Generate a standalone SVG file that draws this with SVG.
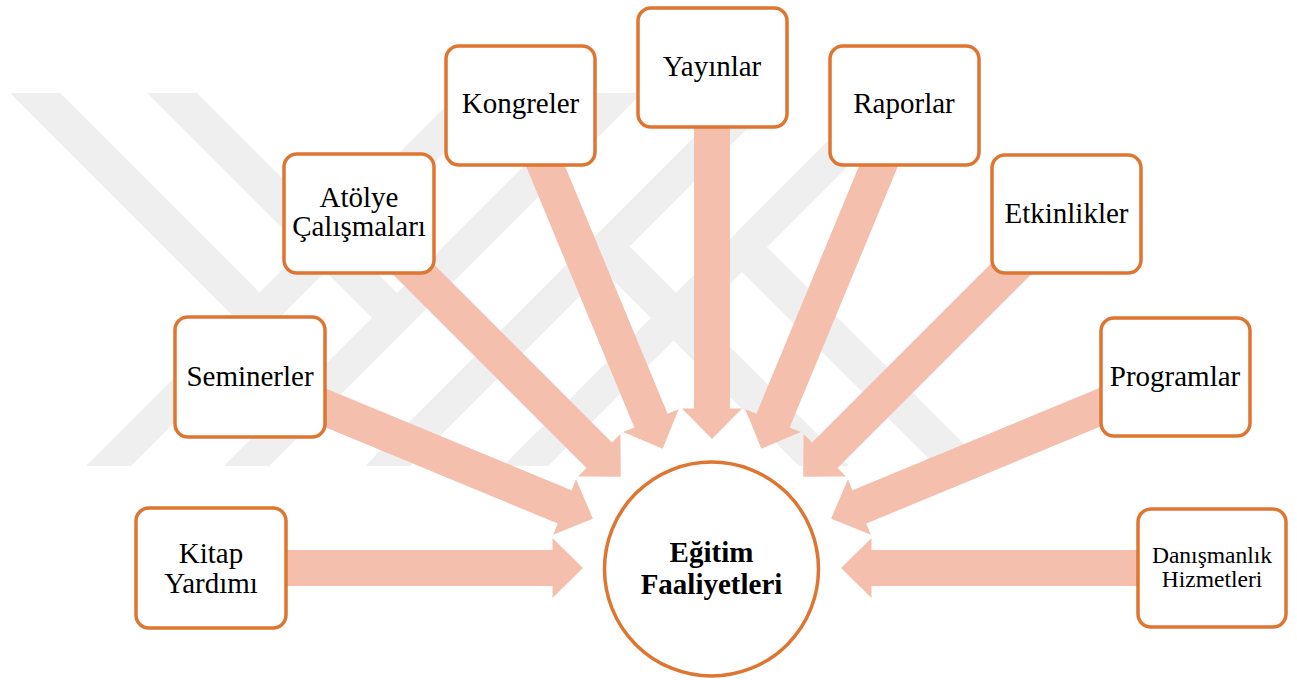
<svg xmlns="http://www.w3.org/2000/svg" xmlns:xlink="http://www.w3.org/1999/xlink" width="1297" height="680" viewBox="0 0 1297 680">
<style>
.box{fill:#fff;stroke:#DE7530;stroke-width:3.5}
text{font-family:'Liberation Serif','Times New Roman',Tinos,Times,serif}
.lbl{font-size:29px;fill:#000;text-anchor:middle}
.sm{font-size:23.5px}
.bold{font-weight:bold}
.wm{fill:#efefef}
.arr{fill:#F4BFAD}
</style>
<defs>
<path id="arrow" d="M -500,-18 H -159.5 V -30 L -129,0 L -159.5,30 V 18 H -500 Z"/>
</defs>
<rect width="1297" height="680" fill="#fff"/>
<g id="watermark">
<polygon class="wm" points="459,93 504,93 131,466 86,466"/>
<polygon class="wm" points="597,93 642,93 269,466 224,466"/>
<polygon class="wm" points="738,93 783,93 410,466 365,466"/>
<polygon class="wm" points="876,93 921,93 548,466 503,466"/>
<polygon class="wm" points="10,93 60,93 263.5,296.5 238.5,321.5"/>
<polygon class="wm" points="147,93 197,93 401,297 376,322"/>
<polygon class="wm" points="625.5,242.5 849,466 799,466 600.5,267.5"/>
<polygon class="wm" points="763,243 986,466 936,466 738,268"/>
</g>
<g id="connectors">
<use xlink:href="#arrow" class="arr" transform="translate(712,568) rotate(0)"/>
<use xlink:href="#arrow" class="arr" transform="translate(712,568) rotate(22.5)"/>
<use xlink:href="#arrow" class="arr" transform="translate(712,568) rotate(45)"/>
<use xlink:href="#arrow" class="arr" transform="translate(712,568) rotate(67.5)"/>
<use xlink:href="#arrow" class="arr" transform="translate(712,568) rotate(90)"/>
<use xlink:href="#arrow" class="arr" transform="translate(712,568) rotate(112.5)"/>
<use xlink:href="#arrow" class="arr" transform="translate(712,568) rotate(135)"/>
<use xlink:href="#arrow" class="arr" transform="translate(712,568) rotate(157.5)"/>
<use xlink:href="#arrow" class="arr" transform="translate(712,568) rotate(180)"/>
</g>
<g id="center">
<circle cx="711.5" cy="569" r="107" class="box"/>
<text class="lbl bold" x="711.5" y="562">Eğitim</text>
<text class="lbl bold" x="711.5" y="594">Faaliyetleri</text>
</g>
<g id="kitap">
<rect class="box" x="136" y="508" width="150" height="120" rx="13"/>
<text class="lbl" x="211" y="563">Kitap</text>
<text class="lbl" x="211" y="593">Yardımı</text>
</g>
<g id="seminerler">
<rect class="box" x="175" y="317" width="150" height="120" rx="13"/>
<text class="lbl" x="250" y="386">Seminerler</text>
</g>
<g id="atolye">
<rect class="box" x="284" y="154" width="150" height="119" rx="13"/>
<text class="lbl" x="359" y="207">Atölye</text>
<text class="lbl" x="359" y="236">Çalışmaları</text>
</g>
<g id="kongreler">
<rect class="box" x="446" y="46" width="149" height="119" rx="13"/>
<text class="lbl" x="520.5" y="113">Kongreler</text>
</g>
<g id="yayinlar">
<rect class="box" x="638" y="8" width="149" height="119" rx="13"/>
<text class="lbl" x="712" y="76">Yayınlar</text>
</g>
<g id="raporlar">
<rect class="box" x="830" y="46" width="149" height="119" rx="13"/>
<text class="lbl" x="904" y="113">Raporlar</text>
</g>
<g id="etkinlikler">
<rect class="box" x="992" y="155" width="149" height="118" rx="13"/>
<text class="lbl" x="1066.5" y="223">Etkinlikler</text>
</g>
<g id="programlar">
<rect class="box" x="1101" y="318" width="149" height="118" rx="13"/>
<text class="lbl" x="1175" y="386">Programlar</text>
</g>
<g id="danismanlik">
<rect class="box" x="1138" y="509" width="148" height="118" rx="13"/>
<text class="lbl sm" x="1212" y="563">Danışmanlık</text>
<text class="lbl sm" x="1212" y="587">Hizmetleri</text>
</g>
</svg>
